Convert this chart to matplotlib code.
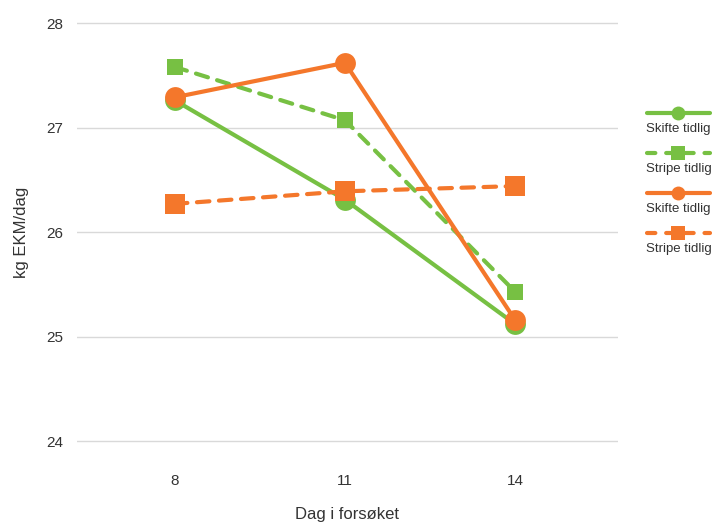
import matplotlib
matplotlib.use("Agg")
import matplotlib.pyplot as plt
from matplotlib.lines import Line2D

plt.rcParams['font.family'] = ['Liberation Sans', 'DejaVu Sans']

days = ['8', '11', '14']
yticks = [24, 25, 26, 27, 28]

names = ['Skifte tidlig', 'Stripe tidlig', 'Skifte tidlig', 'Stripe tidlig']
values = [
    [27.26, 26.31, 25.12],   # green, solid
    [27.58, 27.07, 25.43],   # green, dashed
    [27.29, 27.62, 25.16],   # orange, solid
    [26.27, 26.39, 26.44],   # orange, dashed
]

GREEN = '#77c043'
ORANGE = '#f4772b'
colors = [GREEN, GREEN, ORANGE, ORANGE]
dashed = [False, True, False, True]
markers = ['o', 's', 'o', 's']
msizes = [15, 11, 15, 14]
DASH = (3.0, 2.3)

fig = plt.figure(figsize=(7.22, 5.25), dpi=100)
ax = fig.add_axes([0.1066, 0.156, 0.7494, 0.802])

x = list(range(len(days)))
for vals, c, d, m, ms in zip(values, colors, dashed, markers, msizes):
    line, = ax.plot(x, vals, color=c, lw=3.0, marker=m, markersize=ms,
                    markeredgewidth=0, solid_capstyle='round',
                    dash_capstyle='round')
    if d:
        line.set_dashes(DASH)

ax.set_xlim(-0.576, 2.606)
ax.set_ylim(23.98, 28.01)
ax.set_xticks(x)
ax.set_xticklabels(days)
ax.set_yticks(yticks)
ax.grid(axis='y', color='#d9d9d9', lw=1.0)
ax.set_axisbelow(True)
for s in ax.spines.values():
    s.set_visible(False)
ax.tick_params(length=0, labelsize=11, colors='#333333', pad=10)
ax.tick_params(axis='x', pad=22)
ax.set_xlabel('Dag i forsøket', fontsize=12, color='#333333', labelpad=14)
ax.set_ylabel('kg EKM/dag', fontsize=12, color='#333333', labelpad=12)

# legend: handle on one row, label underneath
for i, (name, c, d, m, ms) in enumerate(zip(names, colors, dashed, markers, msizes)):
    yh = 1 - (113 + 40 * i) / 525
    yt = 1 - (129 + 40 * i) / 525
    h = Line2D([647 / 722, 710 / 722], [yh, yh], transform=fig.transFigure,
               color=c, lw=3.0, solid_capstyle='round', dash_capstyle='round')
    if d:
        h.set_dashes((2.0, 2.6))
    fig.add_artist(h)
    mk = Line2D([678 / 722], [yh], transform=fig.transFigure, color=c,
                marker=m, markersize=10, markeredgewidth=0, lw=0)
    fig.add_artist(mk)
    fig.text(646 / 722, yt, name, fontsize=9.5, color='#333333',
             ha='left', va='center')

fig.savefig('out.png', dpi=100)
